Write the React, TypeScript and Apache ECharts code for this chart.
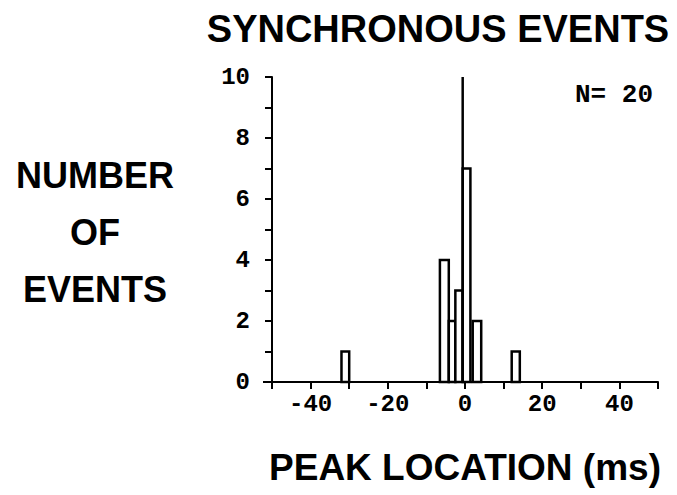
import React, { useEffect, useRef } from "react";
import * as echarts from "echarts";

// Histogram bins: [start ms, end ms, count]
const binStarts = [-32, -6.5, -4.2, -2.5, -0.6, 2.0, 12.1];
const binEnds = [-30, -4.2, -2.5, -0.6, 1.4, 4.2, 14.2];
const binCounts = [1, 4, 2, 3, 7, 2, 1];
const zeroLineX = -0.6;

const xLabels = [-40, -20, 0, 20, 40];
const titleText = "SYNCHRONOUS EVENTS";
const yTitleLines = ["NUMBER", "OF", "EVENTS"];
const xTitleText = "PEAK LOCATION (ms)";
const nText = "N= 20";

export default function App() {
  const ref = useRef<HTMLDivElement>(null);
  useEffect(() => {
    if (!ref.current) return;
    const chart = echarts.init(ref.current, null, { renderer: "svg" });
    const data = binStarts.map((s, i) => [s, binEnds[i], binCounts[i]]);
    const sans = "'Liberation Sans', Arial, sans-serif";
    const mono = "'Liberation Mono', 'DejaVu Sans Mono', monospace";
    chart.setOption({
      animation: false,
      backgroundColor: "#fff",
      grid: { left: 272, right: 19, top: 77, bottom: 113, containLabel: false },
      xAxis: {
        type: "value",
        min: -50,
        max: 50,
        interval: 10,
        splitLine: { show: false },
        axisLine: { show: true, onZero: false, lineStyle: { color: "#000", width: 2 } },
        axisTick: { show: true, inside: false, length: 7, lineStyle: { color: "#000", width: 2 } },
        axisLabel: {
          show: true,
          margin: 10,
          color: "#000",
          fontFamily: mono,
          fontWeight: "bold",
          fontSize: 24,
          formatter: (v: number) => (xLabels.indexOf(v) >= 0 ? String(v) : ""),
        },
      },
      yAxis: {
        type: "value",
        min: 0,
        max: 10,
        interval: 2,
        splitLine: { show: false },
        axisLine: { show: true, onZero: false, lineStyle: { color: "#000", width: 2 } },
        axisTick: { show: true, inside: false, length: 7, lineStyle: { color: "#000", width: 2 } },
        minorTick: { show: true, splitNumber: 2, length: 7, lineStyle: { color: "#000", width: 2 } },
        minorSplitLine: { show: false },
        axisLabel: {
          show: true,
          margin: 22,
          color: "#000",
          fontFamily: mono,
          fontWeight: "bold",
          fontSize: 24,
        },
      },
      series: [
        {
          type: "custom",
          data,
          renderItem: (params: any, api: any) => {
            const p0 = api.coord([api.value(0), api.value(2)]);
            const p1 = api.coord([api.value(1), 0]);
            return {
              type: "rect",
              shape: { x: p0[0], y: p0[1], width: p1[0] - p0[0], height: p1[1] - p0[1] },
              style: { fill: "#fff", stroke: "#000", lineWidth: 2.5 },
            };
          },
          encode: { x: [0, 1], y: 2 },
          z: 3,
        },
        {
          type: "line",
          data: [
            [zeroLineX, 0],
            [zeroLineX, 10],
          ],
          symbol: "none",
          lineStyle: { color: "#000", width: 2.5 },
          z: 4,
        },
      ],
      graphic: [
        {
          type: "line",
          shape: { x1: 263, y1: 382, x2: 273, y2: 382 },
          style: { stroke: "#000", lineWidth: 2 },
        },
        {
          type: "text",
          x: 438,
          y: 29,
          style: {
            text: titleText,
            fontFamily: sans,
            fontWeight: "bold",
            fontSize: 38,
            fill: "#000",
            align: "center",
            verticalAlign: "middle",
          },
        },
        ...yTitleLines.map((t, i) => ({
          type: "text",
          x: 95,
          y: 175 + i * 57,
          style: {
            text: t,
            fontFamily: sans,
            fontWeight: "bold",
            fontSize: 36,
            fill: "#000",
            align: "center",
            verticalAlign: "middle",
          },
        })),
        {
          type: "text",
          x: 465,
          y: 467,
          style: {
            text: xTitleText,
            fontFamily: sans,
            fontWeight: "bold",
            fontSize: 37,
            fill: "#000",
            align: "center",
            verticalAlign: "middle",
          },
        },
        {
          type: "text",
          x: 653,
          y: 95,
          style: {
            text: nText,
            fontFamily: mono,
            fontWeight: "bold",
            fontSize: 26,
            fill: "#000",
            align: "right",
            verticalAlign: "middle",
          },
        },
      ],
    });
    return () => chart.dispose();
  }, []);
  return <div ref={ref} style={{ width: 677, height: 495, position: "absolute", left: 0, top: 0 }} />;
}
